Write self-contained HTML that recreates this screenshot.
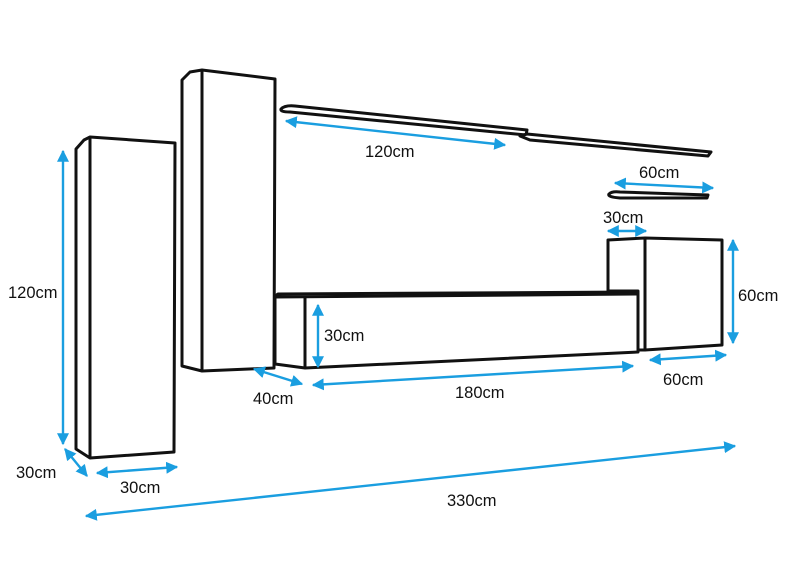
<!DOCTYPE html>
<html><head><meta charset="utf-8"><style>
html,body{margin:0;padding:0;background:#fff;width:801px;height:572px;overflow:hidden}
text{font-family:"Liberation Sans",sans-serif;font-size:16.5px;fill:#111}
</style></head><body>
<svg width="801" height="572" viewBox="0 0 801 572" xmlns="http://www.w3.org/2000/svg">
<defs>
<marker id="a" viewBox="0 0 10 10" refX="9" refY="5" markerWidth="5" markerHeight="5" orient="auto-start-reverse"><path d="M0,0L10,5L0,10z" fill="#1a9ee0"/></marker>
</defs>
<g fill="#fff" stroke="#111" stroke-width="3" stroke-linejoin="round">
<path d="M76,149 L84,140 L90,137 L175,143 L174,452 L90,458 L76,449 Z"/>
<line x1="90" y1="137" x2="90" y2="458"/>
<path d="M182,80 L190,72 L202,70 L275,79 L274,368 L202,371 L182,366 Z"/>
<line x1="202" y1="70" x2="202" y2="371"/>
<path d="M275,296 L278,294 L635,292 L639,296 L638,352 L305,368 L275,364 Z"/>
<line x1="305" y1="298" x2="305" y2="368"/>
<line x1="275" y1="297" x2="639" y2="294"/>
<path d="M608,240 L645,238 L722,240 L722,345 L645,350 L638,350 L638,291 L608,291 Z"/>
<line x1="645" y1="238" x2="645" y2="350"/>
<path d="M281,109 Q285,105 295,106 L527,130 L526,135 L290,112 Q280,112 281,109 Z"/>
<path d="M520,136 L527,134 L711,152 L708,156 L530,140 Z"/>
<path d="M609,194 Q612,191 620,192 L708,195 L707,198 L620,198 Q607,197 609,194 Z"/>
</g>
<g stroke="#1a9ee0" stroke-width="2.4" fill="none" marker-start="url(#a)" marker-end="url(#a)">
<line x1="63" y1="151" x2="63" y2="444"/>
<line x1="65" y1="449" x2="87" y2="476"/>
<line x1="97" y1="473" x2="177" y2="467"/>
<line x1="86" y1="516" x2="735" y2="446"/>
<line x1="254" y1="369" x2="302" y2="384"/>
<line x1="313" y1="385" x2="633" y2="366"/>
<line x1="318" y1="305" x2="318" y2="367"/>
<line x1="650" y1="360" x2="726" y2="355"/>
<line x1="733" y1="240" x2="733" y2="343"/>
<line x1="608" y1="231" x2="646" y2="231"/>
<line x1="615" y1="183" x2="713" y2="188"/>
<line x1="286" y1="121" x2="505" y2="145"/>
</g>
<text x="8" y="298">120cm</text>
<text x="16" y="478">30cm</text>
<text x="120" y="493">30cm</text>
<text x="447" y="506">330cm</text>
<text x="253" y="404">40cm</text>
<text x="455" y="398">180cm</text>
<text x="324" y="341">30cm</text>
<text x="663" y="385">60cm</text>
<text x="738" y="301">60cm</text>
<text x="603" y="223">30cm</text>
<text x="639" y="178">60cm</text>
<text x="365" y="157">120cm</text>
</svg>
</body></html>
